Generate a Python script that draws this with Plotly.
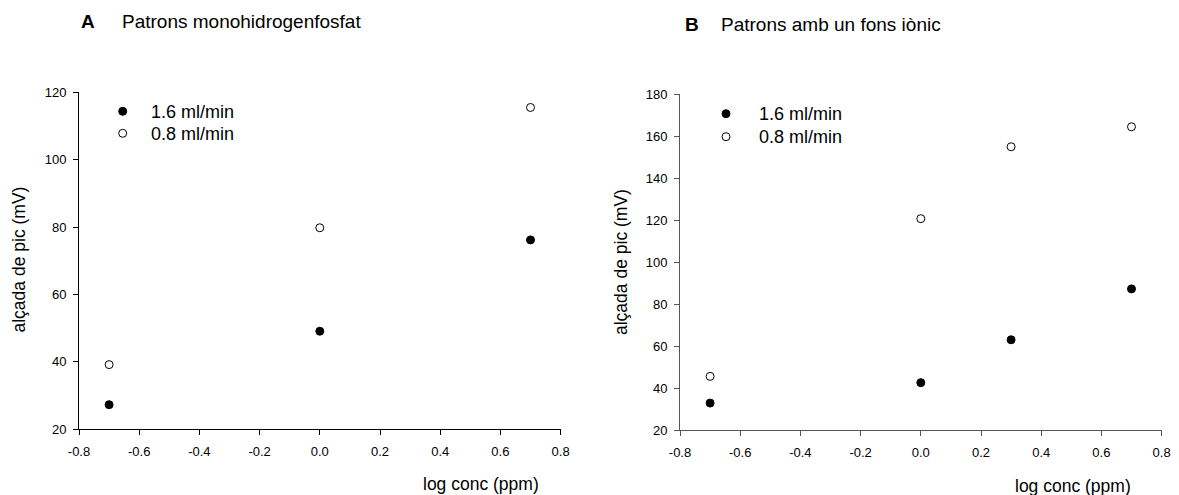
import plotly.graph_objects as go

# ---- data ----
log_conc_a = [-0.7, 0.0, 0.7]
a_flow_16 = [27.3, 49.1, 76.2]
a_flow_08 = [39.2, 79.8, 115.5]

log_conc_b = [-0.7, 0.0, 0.3, 0.7]
b_flow_16 = [33.0, 42.7, 63.1, 87.3]
b_flow_08 = [45.7, 120.7, 154.9, 164.4]

series_names = ["1.6 ml/min", "0.8 ml/min"]
x_tick_vals = [-0.8, -0.6, -0.4, -0.2, 0.0, 0.2, 0.4, 0.6, 0.8]
x_tick_labels = ["-0.8", "-0.6", "-0.4", "-0.2", "0.0", "0.2", "0.4", "0.6", "0.8"]
panel_titles = [("A", "Patrons monohidrogenfosfat"), ("B", "Patrons amb un fons iònic")]
x_title = "log conc (ppm)"
y_title = "alçada de pic (mV)"

W, H = 1179, 495
FONT = "Arial, Liberation Sans, sans-serif"


def fx(p):
    return p / W


def fy(p):
    return 1 - p / H


fig = go.Figure()

filled = dict(symbol="circle", size=8, color="black", line=dict(color="black", width=1))
hollow = dict(symbol="circle", size=8, color="white", line=dict(color="black", width=1))

fig.add_trace(go.Scatter(x=log_conc_a, y=a_flow_16, mode="markers", marker=filled,
                         name=series_names[0], xaxis="x", yaxis="y"))
fig.add_trace(go.Scatter(x=log_conc_a, y=a_flow_08, mode="markers", marker=hollow,
                         name=series_names[1], xaxis="x", yaxis="y"))
fig.add_trace(go.Scatter(x=log_conc_b, y=b_flow_16, mode="markers", marker=filled,
                         name=series_names[0], xaxis="x2", yaxis="y2"))
fig.add_trace(go.Scatter(x=log_conc_b, y=b_flow_08, mode="markers", marker=hollow,
                         name=series_names[1], xaxis="x2", yaxis="y2"))


def xaxis(dom, anchor, color):
    return dict(domain=dom, anchor=anchor, range=[-0.8, 0.8], tickvals=x_tick_vals,
                ticktext=x_tick_labels, showline=True, linecolor=color, linewidth=1,
                ticks="outside", ticklen=5, tickwidth=1, tickcolor=color,
                showgrid=False, zeroline=False, ticklabelstandoff=5, automargin=False,
                tickfont=dict(family=FONT, size=13, color="black"))


def yaxis(dom, anchor, rng, color):
    return dict(domain=dom, anchor=anchor, range=rng, dtick=20, tick0=20,
                showline=True, linecolor=color, linewidth=1,
                ticks="outside", ticklen=5, tickwidth=1, tickcolor=color,
                showgrid=False, zeroline=False, ticklabelstandoff=4, automargin=False,
                tickfont=dict(family=FONT, size=13, color="black"))


fig.update_layout(
    width=W, height=H, autosize=False,
    margin=dict(l=0, r=0, t=0, b=0, autoexpand=False),
    paper_bgcolor="white", plot_bgcolor="white",
    xaxis=xaxis([fx(79), fx(560.6)], "y", "black"),
    yaxis=yaxis([fy(429.3), fy(92.3)], "x", [20, 120], "black"),
    xaxis2=xaxis([fx(680), fx(1161.6)], "y2", "#555555"),
    yaxis2=yaxis([fy(430.4), fy(94)], "x2", [20, 180], "#555555"),
    showlegend=False,
)

# legend keys (marker swatch + label) for each panel
legend_spots = [
    (122.7, 150, [111.3, 133.3]),
    (726, 757.7, [113.7, 136.7]),
]
for mx, tx, rows in legend_spots:
    for name, ry, style in zip(series_names, rows, [filled, hollow]):
        fig.add_shape(type="circle", xref="paper", yref="paper",
                      xsizemode="pixel", ysizemode="pixel",
                      xanchor=fx(mx), yanchor=fy(ry), x0=-4, x1=4, y0=-4, y1=4,
                      fillcolor=style["color"], line=dict(color="black", width=1))
        fig.add_annotation(text=name, x=fx(tx), y=fy(ry + 0.5), xref="paper", yref="paper",
                           xanchor="left", yanchor="middle", showarrow=False,
                           borderpad=0, font=dict(family=FONT, size=18, color="black"))

# panel headings
heads = [((88.3, 22), (120.5, 22)), ((691.7, 24.5), (720, 24.5))]
for (letter, text), ((lx, ly), (tx, ty)) in zip(panel_titles, heads):
    fig.add_annotation(text=f"<b>{letter}</b>", x=fx(lx), y=fy(ly), xref="paper", yref="paper",
                       xanchor="center", yanchor="middle", showarrow=False, borderpad=0,
                       font=dict(family=FONT, size=19, color="black"))
    fig.add_annotation(text=text, x=fx(tx), y=fy(ty), xref="paper", yref="paper",
                       xanchor="left", yanchor="middle", showarrow=False, borderpad=0,
                       font=dict(family=FONT, size=19, color="black"))

# axis titles
for cx, cy in [(481, 484), (1073, 486)]:
    fig.add_annotation(text=x_title, x=fx(cx), y=fy(cy), xref="paper", yref="paper",
                       xanchor="center", yanchor="middle", showarrow=False, borderpad=0,
                       font=dict(family=FONT, size=17.5, color="black"))
for cx, cy in [(18.5, 260), (621, 262)]:
    fig.add_annotation(text=y_title, x=fx(cx), y=fy(cy), xref="paper", yref="paper",
                       xanchor="center", yanchor="middle", showarrow=False, textangle=-90,
                       borderpad=0, font=dict(family=FONT, size=17.5, color="black"))

# the page carries only the chart: no body margin or scrollbars around it
page_css = ("document.documentElement.style.margin='0';"
            "document.body.style.margin='0';"
            "document.body.style.padding='0';"
            "document.documentElement.style.overflow='hidden';"
            "document.body.style.overflow='hidden';")

fig.write_html("out.html", post_script=page_css)
